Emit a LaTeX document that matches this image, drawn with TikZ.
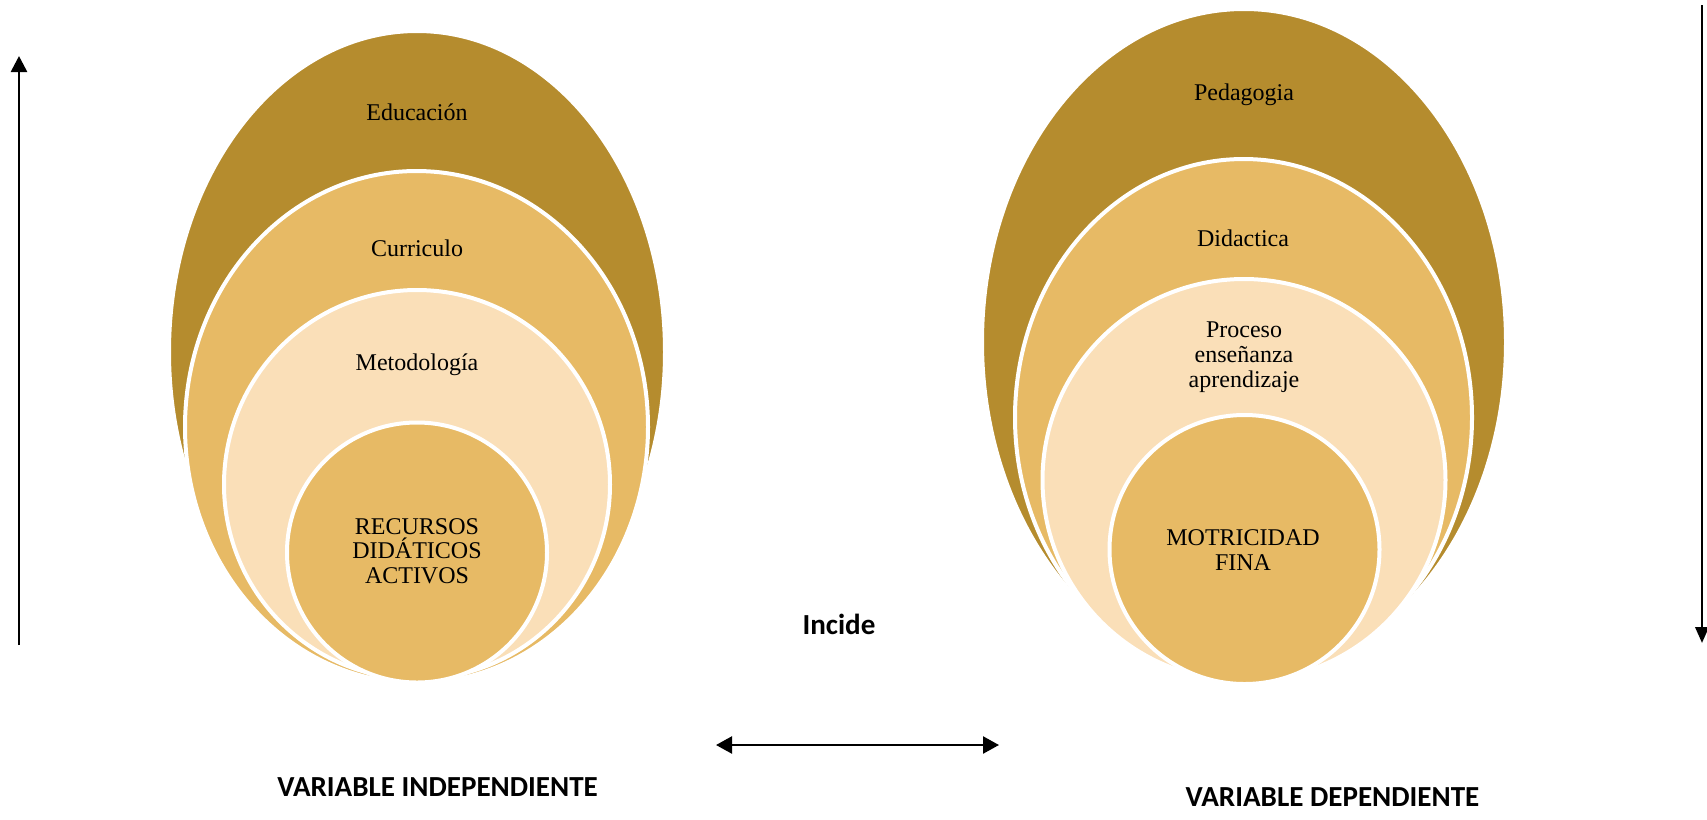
\documentclass[tikz,border=0pt]{standalone}
\usepackage{fontspec}
\setmainfont{Liberation Serif}
\newfontfamily\labelfont{Carlito}
\usetikzlibrary{arrows.meta}
\definecolor{darkgold}{HTML}{B58C2E}
\definecolor{midgold}{HTML}{E7BA65}
\definecolor{lightgold}{HTML}{FADFB8}
\begin{document}
\begin{tikzpicture}[x=0.75pt,y=-0.75pt,
  ring/.style={draw=white,line width=3pt},
  lbl/.style={font=\fontsize{18}{18.5}\selectfont,inner sep=0pt,anchor=base},
  multi/.style={font=\fontsize{18}{18.4}\selectfont,inner sep=0pt,align=center},
  varlbl/.style={font=\labelfont\bfseries\fontsize{21.8}{24}\selectfont,inner sep=0pt,anchor=base},
  axis/.style={line width=2pt}]
\useasboundingbox (0,0) rectangle (1707,819);

% left nested shapes
\path[ring,fill=darkgold]  (417,352)   ellipse [x radius=248,   y radius=321];
\path[ring,fill=midgold]   (416.5,427) ellipse [x radius=231.5, y radius=256];
\path[ring,fill=lightgold] (417,484.5) ellipse [x radius=193,   y radius=194.5];
\path[ring,fill=midgold]   (417,552.5) ellipse [x radius=130,   y radius=130];

% right nested shapes
\path[ring,fill=darkgold]  (1244,342)    ellipse [x radius=262,   y radius=333];
\path[ring,fill=midgold]   (1243.5,417.5) ellipse [x radius=228.5, y radius=258.5];
\path[ring,fill=lightgold] (1244,480)    ellipse [x radius=201.5, y radius=201];
\path[ring,fill=midgold]   (1244.5,549.5) ellipse [x radius=135,   y radius=134.5];

% texts left
\node[lbl] (edu) at (417,120.5) {Educación};
\node[lbl] (cur) at (417,256) {Curriculo};
\node[lbl] (met) at (417,370.5) {Metodología};
\node[multi] (rec) at (417,551) {RECURSOS\\DIDÁTICOS\\ACTIVOS};

% texts right
\node[lbl] (ped) at (1244,100.4) {Pedagogia};
\node[lbl] (did) at (1243,246) {Didactica};
\node[multi] (pro) at (1244,357.2) {Proceso\\enseñanza\\aprendizaje};
\node[multi] (mot) at (1243,550) {MOTRICIDAD\\FINA};

% labels
\node[varlbl] (incide) at (839,634.3) {Incide};
\node[varlbl] (vind) at (437.6,796.7) {VARIABLE INDEPENDIENTE};
\node[varlbl] (vdep) at (1332.5,806.7) {VARIABLE DEPENDIENTE};

% arrows
\coordinate (upB) at (19,645);
\coordinate (upT) at (19,56);
\coordinate (downT) at (1702,5);
\coordinate (downB) at (1702,643);
\coordinate (bothL) at (716,745);
\coordinate (bothR) at (999,745);
\draw[axis,-{Triangle[length=12pt,width=12pt]}] (upB) -- (upT);
\draw[axis,-{Triangle[length=12pt,width=10pt]}] (downT) -- (downB);
\draw[line width=1.75pt,{Triangle[length=12pt,width=12.75pt]}-{Triangle[length=12pt,width=12.75pt]}] (bothL) -- (bothR);
\end{tikzpicture}
\end{document}
